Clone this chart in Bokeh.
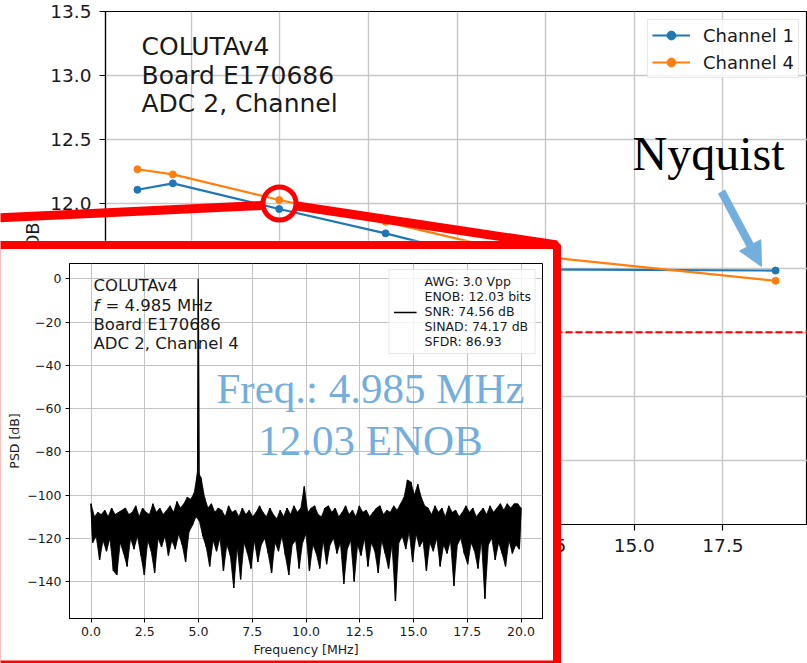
import numpy as np
from bokeh.plotting import figure
from bokeh.models import (Range1d, FixedTicker, PrintfTickFormatter, Legend, LegendItem,
                          Span, Label, Arrow, NormalHead)
from bokeh.embed import file_html
from bokeh.resources import INLINE

# ---------------------------------------------------------------- data
# ENOB versus input frequency, COLUTAv4 board E170686, ADC 2
freq_mhz = [0.985, 1.985, 4.985, 7.985, 11.985, 18.985]
enob_ch1 = [12.11, 12.16, 11.96, 11.77, 11.49, 11.48]
enob_ch4 = [12.27, 12.23, 12.03, 11.86, 11.60, 11.40]
enob_limit = 11.0
main_xticks = [2.5, 5.0, 7.5, 10.0, 12.5, 15.0, 17.5]
main_yticks = [9.5, 10.0, 10.5, 11.0, 11.5, 12.0, 12.5, 13.0, 13.5]

# PSD of channel 4 at 4.985 MHz; bins alternate between the
# upper and the lower edge of the noise floor
bin_mhz = 0.08
psd_upper = [
    -104, -110, -108, -109, -107, -110, -106, -109, -108, -107,
    -106, -109, -108, -105, -110, -106, -108, -109, -104, -108,
    -106, -109, -107, -105, -108, -103, -106, -104, -101, -102,
    -99, -89, -92, -101, -106, -104, -108, -106, -107, -110,
    -105, -108, -107, -110, -106, -109, -107, -110, -108, -105,
    -108, -110, -106, -109, -111, -107, -110, -106, -109, -105,
    -108, -106, -96, -108, -106, -105, -109, -110, -106, -105,
    -108, -106, -110, -108, -105, -109, -107, -110, -105, -108,
    -107, -110, -108, -106, -105, -109, -107, -108, -105, -107,
    -104, -101, -93, -94, -100, -95, -101, -105, -106, -109,
    -105, -108, -106, -110, -105, -108, -107, -110, -108, -105,
    -108, -106, -110, -108, -106, -109, -105, -108, -106, -104,
    -107, -104, -106, -104, -104, -106]
psd_lower = [
    -122, -119, -130, -121, -126, -120, -135, -137, -122, -127,
    -133, -120, -125, -119, -128, -137, -121, -126, -136, -120,
    -124, -119, -128, -121, -125, -118, -123, -131, -117, -114,
    -110, -112, -119, -124, -133, -121, -126, -120, -135, -123,
    -128, -143, -124, -139, -122, -127, -134, -121, -131, -123,
    -120, -127, -136, -122, -126, -119, -128, -137, -123, -121,
    -134, -122, -118, -135, -123, -127, -134, -121, -132, -123,
    -120, -127, -122, -141, -125, -121, -140, -123, -128, -120,
    -133, -122, -126, -136, -121, -127, -134, -123, -149, -122,
    -119, -125, -117, -131, -118, -124, -121, -135, -122, -126,
    -120, -133, -123, -127, -121, -142, -123, -120, -127, -132,
    -122, -126, -134, -121, -148, -123, -120, -130, -122, -127,
    -133, -121, -127, -123, -125]
carrier_mhz = 4.985
carrier_db = 0.0
stats = ["AWG: 3.0 Vpp", "ENOB: 12.03 bits", "SNR: 74.56 dB",
         "SINAD: 74.17 dB", "SFDR: 86.93"]
inset_xticks = [0.0, 2.5, 5.0, 7.5, 10.0, 12.5, 15.0, 17.5, 20.0]
inset_yticks = [-140, -120, -100, -80, -60, -40, -20, 0]

assert len(psd_upper) == len(psd_lower) + 1

# bin frequencies of the two edges
upper_f = [2 * j * bin_mhz for j in range(len(psd_upper))]
lower_f = [(2 * j + 1) * bin_mhz for j in range(len(psd_lower))]

# assemble the spectrum in bin order and add the carrier line
spec_f, spec_db = [], []
for k in range(len(psd_upper) + len(psd_lower)):
    spec_f.append(k * bin_mhz)
    spec_db.append(psd_upper[k // 2] if k % 2 == 0 else psd_lower[k // 2])
pos = next(i for i, f in enumerate(spec_f) if f > carrier_mhz)
spec_f.insert(pos, carrier_mhz)
spec_db.insert(pos, carrier_db)

# ---------------------------------------------------------------- style
SANS = "DejaVu Sans"
SERIF = "Liberation Serif"
C1, C4 = "#1f77b4", "#ff7f0e"
HILITE = "#74aedd"
TXT = "#1a1a1a"
NBSP = "\u00a0"
W, H = 807, 663

# ---------------------------------------------------------------- main chart
MX0, MX1, MY0, MY1 = 0.085, 19.885, 9.5, 13.5
ML, MR, MT, MB = 105, 807, 11, 524          # frame edges on the page


def mx(px):
    return MX0 + (px - ML) * (MX1 - MX0) / (MR - ML)


def my(py):
    return MY1 - (py - MT) * (MY1 - MY0) / (MB - MT)


main = figure(width=W, height=H, output_backend="svg", toolbar_location=None,
              title=None,
              x_range=Range1d(MX0, MX1), y_range=Range1d(MY0, MY1),
              min_border_left=ML, min_border_right=W - MR,
              min_border_top=MT, min_border_bottom=H - MB,
              background_fill_color="white", border_fill_color="white")
main.outline_line_color = "black"
main.outline_line_width = 1.2
main.xaxis.ticker = FixedTicker(ticks=main_xticks)
main.yaxis.ticker = FixedTicker(ticks=main_yticks)
main.xaxis.formatter = PrintfTickFormatter(format="%.1f")
main.yaxis.formatter = PrintfTickFormatter(format="%.1f")
for ax in main.axis:
    ax.axis_line_color = "black"
    ax.axis_line_width = 1.2
    ax.major_tick_line_color = "black"
    ax.major_tick_line_width = 1.2
    ax.major_tick_out = 6
    ax.major_tick_in = 0
    ax.minor_tick_line_color = None
    ax.major_label_text_font = SANS
    ax.major_label_text_font_size = "18.5px"
    ax.major_label_text_color = TXT
    ax.major_label_standoff = 8
# y label sits high on the axis: leading no-break spaces push it up
main.yaxis.axis_label = NBSP * 7 + "ENOB"
main.yaxis.axis_label_text_font = SANS
main.yaxis.axis_label_text_font_size = "18px"
main.yaxis.axis_label_text_font_style = "normal"
main.yaxis.axis_label_text_color = TXT
main.yaxis.axis_label_standoff = 4
main.grid.grid_line_color = "#c8c8c8"
main.grid.grid_line_width = 1.4

main.add_layout(Span(location=enob_limit, dimension="width", line_color="red",
                     line_width=2, line_dash="7 3"))

l1 = main.line(freq_mhz, enob_ch1, line_color=C1, line_width=2.2)
d1 = main.scatter(freq_mhz, enob_ch1, size=7, fill_color=C1, line_color=C1)
l4 = main.line(freq_mhz, enob_ch4, line_color=C4, line_width=2.2)
d4 = main.scatter(freq_mhz, enob_ch4, size=7, fill_color=C4, line_color=C4)

main.add_layout(Legend(
    items=[LegendItem(label="Channel 1", renderers=[l1, d1]),
           LegendItem(label="Channel 4", renderers=[l4, d4])],
    location="top_right", margin=8, padding=4, spacing=5,
    glyph_width=38, glyph_height=22, label_height=22, label_standoff=13,
    label_text_font=SANS, label_text_font_size="18px", label_text_color=TXT,
    border_line_color="#d0d0d0", border_line_width=1,
    background_fill_color="white", background_fill_alpha=0.8))

for txt, base in [("COLUTAv4", 46), ("Board E170686", 74.5), ("ADC 2, Channel", 103)]:
    main.add_layout(Label(x=mx(141), y=my(base), text=txt, text_font=SANS,
                          text_font_size="25px", text_color=TXT,
                          text_baseline="alphabetic"))

# ---------------------------------------------------------------- inset spectrum
IX0, IX1, IY0, IY1 = -1.0, 21.0, -157.1, 7.1
IOX, IOY, IW, IH = 0, 240, 560, 423            # inset canvas on the page
IL, IR, IT, IB = 69, 542, 263, 618             # inset frame on the page


def ix(px):
    return IX0 + (px - IL) * (IX1 - IX0) / (IR - IL)


def iy(py):
    return IY1 - (py - IT) * (IY1 - IY0) / (IB - IT)


inset = figure(width=IW, height=IH, output_backend="svg", toolbar_location=None,
               title=None,
               x_range=Range1d(IX0, IX1), y_range=Range1d(IY0, IY1),
               min_border_left=IL - IOX, min_border_right=IOX + IW - IR,
               min_border_top=IT - IOY, min_border_bottom=IOY + IH - IB,
               background_fill_color="white", border_fill_color="white")
inset.styles = {"position": "absolute", "left": f"{IOX}px", "top": f"{IOY}px"}
inset.outline_line_color = "black"
inset.outline_line_width = 1
inset.xaxis.ticker = FixedTicker(ticks=inset_xticks)
inset.yaxis.ticker = FixedTicker(ticks=inset_yticks)
inset.xaxis.formatter = PrintfTickFormatter(format="%.1f")
inset.yaxis.major_label_overrides = {t: str(t).replace("-", "\u2212") for t in inset_yticks}
inset.xaxis.axis_label = "Frequency [MHz]"
inset.yaxis.axis_label = "PSD [dB]"
for ax in inset.axis:
    ax.axis_line_color = "black"
    ax.major_tick_line_color = "black"
    ax.major_tick_out = 4
    ax.major_tick_in = 0
    ax.minor_tick_line_color = None
    ax.major_label_text_font = SANS
    ax.major_label_text_font_size = "12.5px"
    ax.major_label_text_color = TXT
    ax.major_label_standoff = 4
    ax.axis_label_text_font = SANS
    ax.axis_label_text_font_size = "12.5px"
    ax.axis_label_text_font_style = "normal"
    ax.axis_label_text_color = TXT
inset.xaxis.axis_label_standoff = 3
inset.yaxis.axis_label_standoff = 2
inset.grid.grid_line_color = "#c4c4c4"
inset.grid.grid_line_width = 1

# dense noise floor: the band between the two edges, then the trace itself
inset.patch(upper_f + lower_f[::-1], psd_upper + psd_lower[::-1],
            fill_color="black", line_color="black", line_width=0.8)
spec = inset.line(spec_f, spec_db, line_color="black", line_width=1.4)
blank = inset.line([], [], line_alpha=0)
inset.add_layout(Legend(
    items=[LegendItem(label=s, renderers=[spec if i == 2 else blank])
           for i, s in enumerate(stats)],
    location="top_right", margin=6, padding=4, spacing=0,
    glyph_width=23, glyph_height=14, label_height=14, label_standoff=8,
    label_text_font=SANS, label_text_font_size="12.5px", label_text_color=TXT,
    border_line_color="#d0d0d0", background_fill_color="white",
    background_fill_alpha=0.8))

for txt, base in [("COLUTAv4", 294.5), ("Board E170686", 333.5), ("ADC 2, Channel 4", 352.5)]:
    inset.add_layout(Label(x=ix(93), y=iy(base), text=txt, text_font=SANS,
                           text_font_size="16.5px", text_color=TXT))
inset.add_layout(Label(x=ix(93), y=iy(314), text="f", text_font=SANS,
                       text_font_style="italic", text_font_size="16.5px", text_color=TXT))
inset.add_layout(Label(x=ix(105), y=iy(314), text=f"= {carrier_mhz} MHz", text_font=SANS,
                       text_font_size="16.5px", text_color=TXT))
for txt, base in [(f"Freq.: {carrier_mhz} MHz", 388),
                  (f"{enob_ch4[2]:.2f} ENOB", 440)]:
    inset.add_layout(Label(x=ix(370), y=iy(base), text=txt, text_font=SERIF,
                           text_font_size="43px", text_color=HILITE,
                           text_align="center", text_baseline="alphabetic"))

# ---------------------------------------------------------------- callout layer
ov = figure(width=W, height=H, output_backend="svg", toolbar_location=None,
            title=None,
            x_range=Range1d(0, W), y_range=Range1d(H, 0),
            x_axis_type=None, y_axis_type=None, min_border=0,
            background_fill_color=None, border_fill_color=None,
            outline_line_color=None)
ov.styles = {"position": "absolute", "left": "0px", "top": "0px"}
# zoom ring round the 4.985 MHz point and the lines out to the inset
ring_x, ring_y, ring_r = 279, 203, 16.5
ov.line([-5, ring_x - ring_r - 1], [217.5, 205], line_color="red", line_width=9)
ov.line([ring_x + ring_r + 1, 556.5], [205.5, 244.5], line_color="red", line_width=9)
ov.circle(x=[ring_x], y=[ring_y], radius=ring_r, fill_color=None,
          line_color="red", line_width=5)
ov.quad(left=[-4], right=[556.5], top=[244.5], bottom=[664], fill_color=None,
        line_color="red", line_width=8)
ov.add_layout(Arrow(end=NormalHead(size=24, fill_color=HILITE, line_color=HILITE),
                    x_start=721, y_start=191, x_end=761, y_end=266,
                    line_color=HILITE, line_width=8))
ov.add_layout(Label(x=632, y=153, text="Nyquist", text_font=SERIF,
                    text_font_size="48px", text_color="black",
                    text_baseline="alphabetic"))

open("out.html", "w").write(file_html([main, inset, ov], INLINE))
